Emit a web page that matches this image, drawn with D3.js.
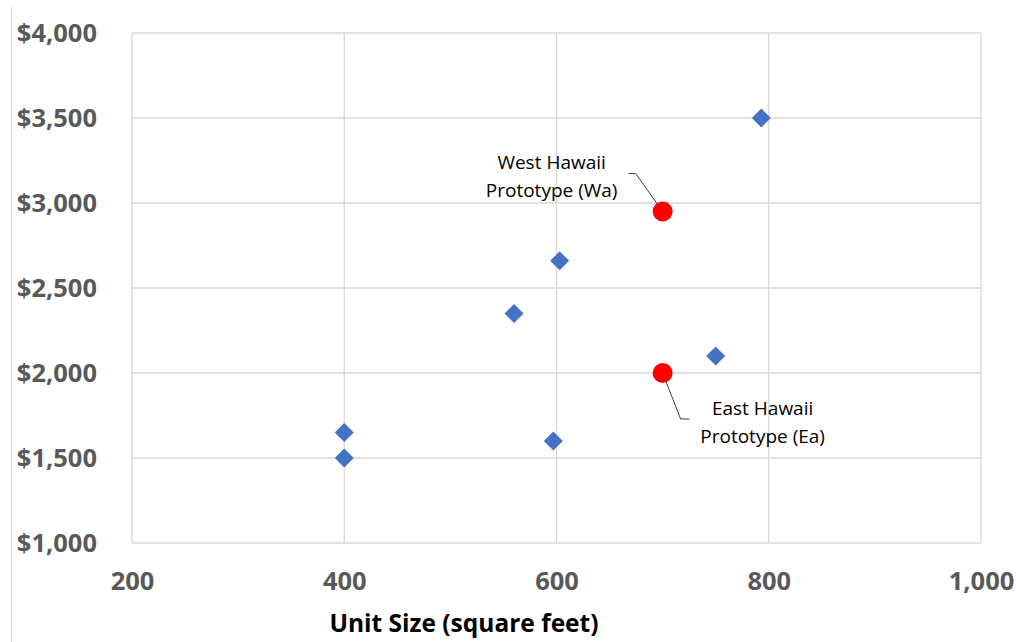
<!DOCTYPE html>
<html><head><meta charset="utf-8">
<script src="https://cdn.jsdelivr.net/npm/d3@7"></script>
<style>body{margin:0;background:#fff}svg{display:block}</style>
</head><body><svg id="c" width="1016" height="642"></svg>
<script>
const unitSize = [400, 400, 597, 560, 603, 750, 793];
const rent = [1650, 1500, 1600, 2350, 2660, 2100, 3500];
const protoNames = [["West Hawaii", "Prototype (Wa)"], ["East Hawaii", "Prototype (Ea)"]];
const protoSize = [700, 700];
const protoRent = [2950, 2000];
const xTicks = [200, 400, 600, 800, 1000];
const yTicks = [1000, 1500, 2000, 2500, 3000, 3500, 4000];
const xTitle = "Unit Size (square feet)";

const svg = d3.select("#c");
const L = 132, R = 981, T = 33, B = 543;
const x = d3.scaleLinear().domain([200, 1000]).range([L, R]);
const y = d3.scaleLinear().domain([1000, 4000]).range([B, T]);
const font = "'Open Sans', sans-serif";

// outer left border line
svg.append("line").attr("x1", 11.5).attr("x2", 11.5).attr("y1", 7).attr("y2", 642)
  .attr("stroke", "#d9d9d9").attr("stroke-width", 1);

// gridlines
const g = svg.append("g");
g.selectAll("line.v").data(xTicks).join("line")
  .attr("x1", d => x(d)).attr("x2", d => x(d)).attr("y1", T).attr("y2", B)
  .attr("stroke", "#d9d9d9").attr("stroke-width", 1.3);
g.selectAll("line.h").data(yTicks).join("line")
  .attr("x1", L).attr("x2", R).attr("y1", d => y(d)).attr("y2", d => y(d))
  .attr("stroke", "#d9d9d9").attr("stroke-width", 1.3);

// axes (labels only)
const xAxis = svg.append("g").attr("transform", `translate(0,${B})`)
  .call(d3.axisBottom(x).tickValues(xTicks).tickFormat(d3.format(",")).tickSize(0).tickPadding(29));
const yAxis = svg.append("g").attr("transform", `translate(${L},0)`)
  .call(d3.axisLeft(y).tickValues(yTicks).tickFormat(d => "$" + d3.format(",")(d)).tickSize(0).tickPadding(35));
[xAxis, yAxis].forEach(a => {
  a.select(".domain").remove();
  a.selectAll("text").attr("font-family", font).attr("font-weight", "bold")
    .attr("font-size", "25.5px").attr("fill", "#595959");
});

svg.append("text").attr("x", 464).attr("y", 632).attr("text-anchor", "middle")
  .attr("font-family", font).attr("font-weight", "bold").attr("font-size", "24.5px")
  .attr("fill", "#000").text(xTitle);

// diamonds
svg.selectAll("path.d").data(unitSize).join("path")
  .attr("d", d3.symbol().type(d3.symbolDiamond2).size(230))
  .attr("transform", (d, i) => `translate(${x(d)},${y(rent[i])})`)
  .attr("fill", "#4472C4");

// leader lines
const lead = [
  [[x(protoSize[0]) - 34, y(protoRent[0]) - 38], [x(protoSize[0]) - 27, y(protoRent[0]) - 38], [x(protoSize[0]), y(protoRent[0])]],
  [[x(protoSize[1]), y(protoRent[1])], [x(protoSize[1]) + 18, y(protoRent[1]) + 46], [x(protoSize[1]) + 27, y(protoRent[1]) + 46]]
];
svg.selectAll("path.l").data(lead).join("path")
  .attr("d", d => d3.line()(d)).attr("fill", "none").attr("stroke", "#404040").attr("stroke-width", 1);

// prototypes
svg.selectAll("circle.p").data(protoSize).join("circle")
  .attr("cx", d => x(d)).attr("cy", (d, i) => y(protoRent[i])).attr("r", 10)
  .attr("fill", "#FF0000");

const labelPos = [[x(protoSize[0]) - 111, y(protoRent[0]) - 43], [x(protoSize[1]) + 100, y(protoRent[1]) + 42]];
protoNames.forEach((lines, i) => {
  const t = svg.append("text").attr("text-anchor", "middle")
    .attr("font-family", font).attr("font-size", "19px").attr("fill", "#000");
  lines.forEach((s, j) => t.append("tspan").attr("x", labelPos[i][0])
    .attr("y", labelPos[i][1] + j * 28).text(s));
});
</script></body></html>
